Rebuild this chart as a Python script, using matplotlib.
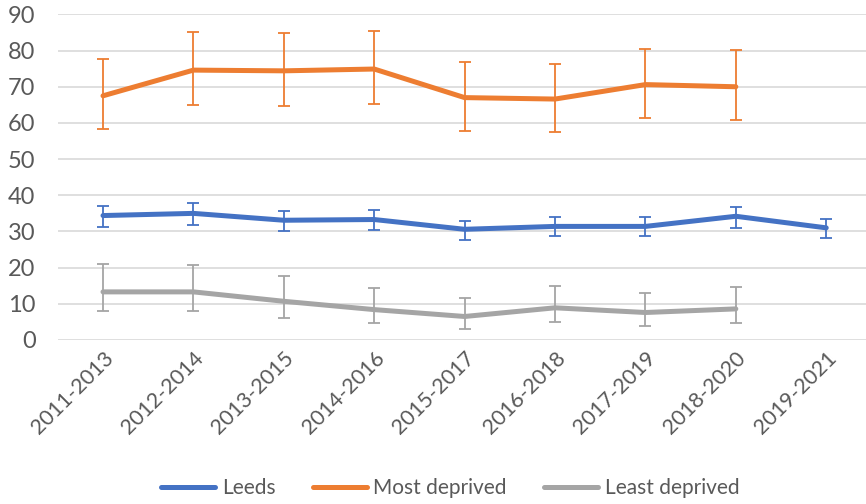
import numpy as np
import matplotlib
matplotlib.use("Agg")
import matplotlib.pyplot as plt

plt.rcParams['font.family'] = ['Lato', 'DejaVu Sans']

# data
periods = ['2011-2013', '2012-2014', '2013-2015', '2014-2016', '2015-2017',
           '2016-2018', '2017-2019', '2018-2020', '2019-2021']

leeds = [34.4, 35.0, 33.1, 33.3, 30.6, 31.4, 31.4, 34.2, 31.0]
leeds_hi = [37.1, 37.9, 35.7, 35.9, 33.0, 33.9, 33.9, 36.8, 33.4]
leeds_lo = [31.1, 31.9, 30.1, 30.5, 27.6, 28.8, 28.8, 31.0, 28.3]

most = [67.5, 74.6, 74.4, 74.9, 67.0, 66.6, 70.6, 70.0, np.nan]
most_hi = [77.7, 85.2, 84.9, 85.5, 76.9, 76.4, 80.5, 80.1, np.nan]
most_lo = [58.4, 64.9, 64.8, 65.2, 57.9, 57.6, 61.4, 60.8, np.nan]

least = [13.3, 13.3, 10.7, 8.4, 6.5, 8.9, 7.6, 8.6, np.nan]
least_hi = [21.0, 20.8, 17.6, 14.4, 11.6, 15.0, 13.0, 14.7, np.nan]
least_lo = [7.9, 8.1, 6.2, 4.6, 3.0, 5.0, 4.0, 4.7, np.nan]

series = [
    ('Leeds', leeds, leeds_lo, leeds_hi, '#4472C4'),
    ('Most deprived', most, most_lo, most_hi, '#ED7D31'),
    ('Least deprived', least, least_lo, least_hi, '#A5A5A5'),
]

fig = plt.figure(figsize=(8.66, 5.04), dpi=100)
ax = fig.add_axes([57.8 / 866, 164 / 504, (866 - 57.8) / 866, (340.3 - 14.7) / 504])

x = np.arange(len(periods))
for name, vals, lo, hi, col in series:
    vals = np.array(vals)
    err = [vals - np.array(lo), np.array(hi) - vals]
    ax.errorbar(x, vals, yerr=err, color=col, lw=3.6, ecolor=col,
                elinewidth=1.3, capsize=4, capthick=1.3, label=name,
                solid_capstyle='round', zorder=3)

ax.set_xlim(-0.5, 8.44)
ax.set_ylim(0, 90)
ax.set_yticks(range(0, 91, 10))
ax.yaxis.grid(True, color='#D9D9D9', lw=1.2)
ax.set_axisbelow(True)
for s in ax.spines.values():
    s.set_visible(False)
ax.tick_params(length=0, colors='#595959')
ax.tick_params(axis='y', pad=16, labelsize=17)
ax.tick_params(axis='x', pad=6, labelsize=15.5)
ax.set_xticks(x)
ax.set_xticklabels(periods, rotation=45, ha='right', rotation_mode='anchor')

labels = [s[0] for s in series]
handles = [plt.Line2D([], [], color=c, lw=3.6, solid_capstyle='round') for _, _, _, _, c in series]
fig.legend(handles, labels, loc='lower center', bbox_to_anchor=(0.52, -0.025), ncol=3,
           frameon=False, fontsize=15, handlelength=2.6, handletextpad=0.3,
           columnspacing=1.8, labelcolor='#595959')

plt.savefig('out.png', dpi=100)
